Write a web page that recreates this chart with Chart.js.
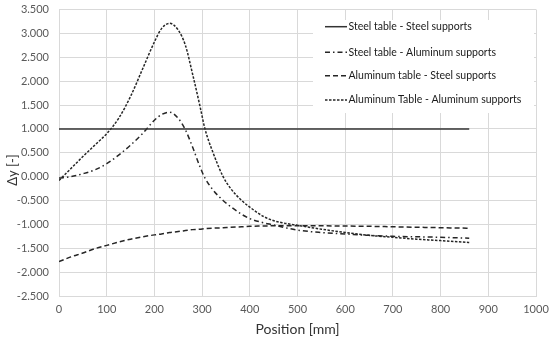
<!DOCTYPE html>
<html>
<head>
<meta charset="utf-8">
<script src="https://cdn.jsdelivr.net/npm/chart.js@4/dist/chart.umd.min.js"></script>
<style>
html,body{margin:0;padding:0;background:#fff;}
#wrap{width:550px;height:338px;position:relative;}
</style>
</head>
<body>
<div id="wrap"><canvas id="c"></canvas></div>
<script>
// ---- data ----
const positions = [0,25,50,75,100,125,150,175,200,215,232,250,265,280,295,306,323,344,360,383,400,430,449,470,500,550,600,650,700,750,800,860];
const steelSteel = [1,1,1,1,1,1,1,1,1,1,1,1,1,1,1,1,1,1,1,1,1,1,1,1,1,1,1,1,1,1,1,1];
const steelAlu = [-0.03,0.0,0.06,0.14,0.27,0.45,0.66,0.9,1.18,1.3,1.35,1.22,0.98,0.62,0.22,-0.03,-0.28,-0.5,-0.63,-0.79,-0.88,-0.97,-1.01,-1.06,-1.12,-1.17,-1.2,-1.23,-1.25,-1.26,-1.27,-1.29];
const aluSteel = [-1.78,-1.68,-1.6,-1.51,-1.44,-1.37,-1.31,-1.26,-1.22,-1.2,-1.17,-1.15,-1.13,-1.11,-1.1,-1.09,-1.08,-1.07,-1.06,-1.05,-1.04,-1.035,-1.03,-1.03,-1.03,-1.03,-1.035,-1.04,-1.05,-1.06,-1.07,-1.08];
const aluAlu = [-0.08,0.17,0.42,0.66,0.9,1.22,1.68,2.25,2.82,3.1,3.21,3.07,2.75,2.15,1.5,1.0,0.5,0.0,-0.25,-0.5,-0.64,-0.84,-0.92,-0.97,-1.02,-1.1,-1.17,-1.23,-1.27,-1.31,-1.34,-1.38];
const seriesNames = ["Steel table - Steel supports","Steel table - Aluminum supports","Aluminum table - Steel supports","Aluminum Table - Aluminum supports"];
const xTitle = "Position [mm]";
const yTitle = "Δy [-]";

const FONT = "Lato, 'Liberation Sans', sans-serif";
const LINE = '#262626';
const GRID = '#d9d9d9';

function pts(ys){ return positions.map((x,i)=>({x:x,y:ys[i]})); }

const styles = [
  {borderDash:[], borderWidth:1.5, borderColor:'#333333'},
  {borderDash:[5,3,1.5,3], borderWidth:1.5, borderColor:LINE},
  {borderDash:[5,3], borderWidth:1.5, borderColor:LINE},
  {borderDash:[2.5,1.5], borderWidth:1.5, borderColor:LINE}
];
const allData = [steelSteel, steelAlu, aluSteel, aluAlu];

const datasets = allData.map((d,i)=>Object.assign({
  label: seriesNames[i],
  data: pts(d),
  pointRadius:0,
  fill:false,
  cubicInterpolationMode:'monotone'
}, styles[i]));

const boxLegend = {
  id:'boxLegend',
  beforeDatasetsDraw(chart){
    const ctx = chart.ctx;
    ctx.save();
    ctx.fillStyle = '#ffffff';
    ctx.fillRect(313, 20, 221, 93);
    ctx.restore();
  },
  afterDraw(chart){
    const ctx = chart.ctx;
    ctx.save();
    const ys = [26.7, 52.3, 75.7, 100];
    chart.data.datasets.forEach((ds,i)=>{
      const y = ys[i];
      ctx.beginPath();
      ctx.setLineDash(ds.borderDash || []);
      ctx.lineWidth = ds.borderWidth;
      ctx.strokeStyle = ds.borderColor;
      ctx.moveTo(325, y);
      ctx.lineTo(347, y);
      ctx.stroke();
      ctx.setLineDash([]);
      ctx.fillStyle = '#1a1a1a';
      ctx.font = "10.5px " + FONT;
      ctx.textBaseline = 'middle';
      ctx.textAlign = 'left';
      ctx.fillText(ds.label, 348.5, y);
    });
    // y axis title
    ctx.translate(13, 170);
    ctx.rotate(-Math.PI/2);
    ctx.font = "13px " + FONT;
    ctx.fillStyle = '#333333';
    ctx.textAlign = 'center';
    ctx.textBaseline = 'middle';
    ctx.fillText(yTitle, 0, 0);
    ctx.restore();
  }
};

new Chart(document.getElementById('c'), {
  type:'line',
  data:{datasets:datasets},
  options:{
    responsive:true,
    maintainAspectRatio:false,
    animation:false,
    devicePixelRatio:1,
    layout:{padding:0},
    plugins:{legend:{display:false}, tooltip:{enabled:false}},
    scales:{
      x:{
        type:'linear', min:0, max:1000,
        ticks:{stepSize:100, color:'#595959', font:{family:FONT,size:11}, padding:7, maxRotation:0, autoSkip:false,
          callback:(v)=>String(v)},
        grid:{color:GRID, lineWidth:1, drawTicks:false},
        border:{color:GRID},
        title:{display:true, text:xTitle, color:'#333333', font:{family:FONT,size:14}, padding:{top:0,bottom:0}},
        afterFit(s){ s.height = 42; s.paddingLeft = 0; s.paddingRight = 14; }
      },
      y:{
        type:'linear', min:-2.5, max:3.5,
        ticks:{stepSize:0.5, color:'#595959', font:{family:FONT,size:11}, padding:10,
          callback:(v)=>Number(v).toFixed(3)},
        grid:{color:GRID, lineWidth:1, drawTicks:false},
        border:{color:GRID},
        afterFit(s){ s.width = 59; s.paddingTop = 9.5; s.paddingBottom = 0; }
      }
    }
  },
  plugins:[boxLegend]
});
</script>
</body>
</html>
